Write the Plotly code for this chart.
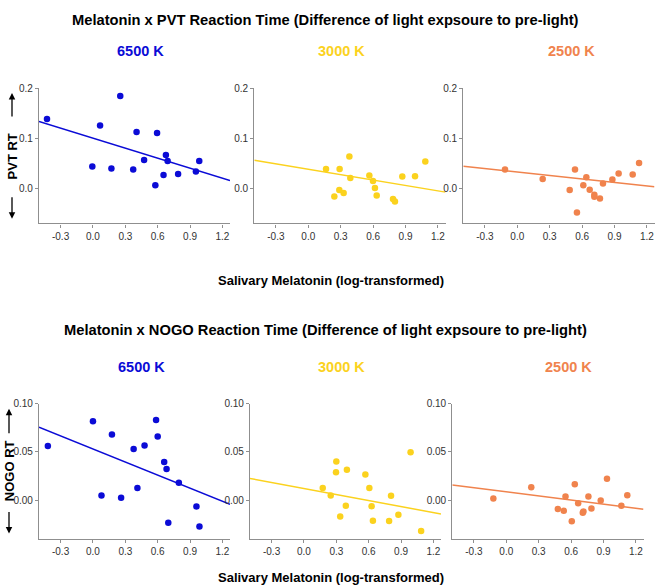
import plotly.graph_objects as go

W, H = 661, 588

# ---------------- data ----------------
conditions = ["6500 K", "3000 K", "2500 K"]
colors = ["#0b0bd6", "#fbd21e", "#f0834d"]

x_range = [-0.5, 1.27]
x_ticks = [-0.3, 0.0, 0.3, 0.6, 0.9, 1.2]
x_ticktext = ["-0.3", "0.0", "0.3", "0.6", "0.9", "1.2"]

pvt_y_range = [-0.07, 0.2]
pvt_y_ticks = [0.0, 0.1, 0.2]
pvt_y_ticktext = ["0.0", "0.1", "0.2"]

nogo_y_range = [-0.04, 0.10]
nogo_y_ticks = [0.0, 0.05, 0.10]
nogo_y_ticktext = ["0.00", "0.05", "0.10"]

# PVT reaction time
pvt_6500_x = [-0.426, 0.066, 0.253, -0.006, 0.171, 0.404, 0.594, 0.373, 0.474, 0.676, 0.692, 0.654, 0.578, 0.789, 0.954, 0.985]
pvt_6500_y = [0.139, 0.126, 0.185, 0.044, 0.040, 0.113, 0.111, 0.038, 0.057, 0.067, 0.055, 0.027, 0.0066, 0.029, 0.034, 0.055]
pvt_3000_x = [0.164, 0.290, 0.380, 0.389, 0.287, 0.327, 0.241, 0.565, 0.599, 0.617, 0.633, 0.784, 0.802, 0.870, 0.988, 1.083]
pvt_3000_y = [0.039, 0.039, 0.064, 0.021, -0.003, -0.009, -0.016, 0.026, 0.015, 0.0007, -0.014, -0.021, -0.026, 0.024, 0.0245, 0.054]
pvt_2500_x = [-0.114, 0.235, 0.485, 0.534, 0.552, 0.639, 0.611, 0.670, 0.713, 0.713, 0.765, 0.793, 0.880, 0.938, 1.068, 1.127]
pvt_2500_y = [0.038, 0.019, -0.003, 0.038, -0.048, 0.0225, 0.0066, -0.0026, -0.0126, -0.0166, -0.020, 0.010, 0.018, 0.030, 0.028, 0.051]
pvt_intercepts = [0.1005, 0.0384, 0.0328]
pvt_slopes = [-0.0666, -0.0360, -0.0232]

# NOGO reaction time
nogo_6500_x = [-0.418, 0.0, 0.079, 0.176, 0.261, 0.377, 0.412, 0.478, 0.585, 0.600, 0.660, 0.682, 0.698, 0.796, 0.959, 0.987]
nogo_6500_y = [0.056, 0.0816, 0.0048, 0.068, 0.0024, 0.053, 0.0126, 0.0567, 0.083, 0.066, 0.0396, 0.0324, -0.0235, 0.018, -0.0065, -0.0273]
nogo_3000_x = [0.174, 0.248, 0.300, 0.297, 0.398, 0.388, 0.336, 0.569, 0.606, 0.627, 0.639, 0.789, 0.807, 0.875, 0.988, 1.086]
nogo_3000_y = [0.0127, 0.0048, 0.040, 0.0288, 0.0315, -0.0058, -0.0168, 0.0267, 0.0127, -0.0062, -0.0212, -0.0216, 0.0045, -0.0151, 0.0497, -0.0318]
nogo_2500_x = [-0.120, 0.231, 0.477, 0.532, 0.548, 0.606, 0.634, 0.665, 0.708, 0.714, 0.760, 0.788, 0.874, 0.932, 1.065, 1.120]
nogo_2500_y = [0.0017, 0.0134, -0.0092, -0.011, 0.0038, -0.0219, 0.0164, -0.0031, -0.013, -0.0116, 0.0038, -0.0086, -0.0003, 0.0223, -0.0058, 0.0051]
nogo_intercepts = [0.0530, 0.0121, 0.0087]
nogo_slopes = [-0.0451, -0.0208, -0.01425]

title_top = "Melatonin x PVT Reaction Time (Difference of light expsoure to pre-light)"
title_bottom = "Melatonin x NOGO Reaction Time (Difference of light expsoure to pre-light)"
x_label = "Salivary Melatonin (log-transformed)"
y_label_top = "PVT RT"
y_label_bottom = "NOGO RT"

# ---------------- layout helpers ----------------
def px(x):
    return x / W

def py(y):
    return 1 - y / H

FONT = "Liberation Sans, Arial, sans-serif"

# panel pixel boxes: (left, right), (top, bottom)
top_boxes = [(39, 230), (254.3, 445.5), (463.3, 654.5)]
bot_boxes = [(39, 230), (250, 441), (452.3, 643.5)]
top_y = (83.3, 219.7)
bot_y = (401.7, 538.3)

fig = go.Figure()

pvt_x = [pvt_6500_x, pvt_3000_x, pvt_2500_x]
pvt_y = [pvt_6500_y, pvt_3000_y, pvt_2500_y]
nogo_x = [nogo_6500_x, nogo_3000_x, nogo_2500_x]
nogo_y = [nogo_6500_y, nogo_3000_y, nogo_2500_y]

layout_axes = {}
idx = 0
for row, (xs_all, ys_all, icpts, slopes, boxes, ybox, yr, yt, ytt) in enumerate([
    (pvt_x, pvt_y, pvt_intercepts, pvt_slopes, top_boxes, top_y, pvt_y_range, pvt_y_ticks, pvt_y_ticktext),
    (nogo_x, nogo_y, nogo_intercepts, nogo_slopes, bot_boxes, bot_y, nogo_y_range, nogo_y_ticks, nogo_y_ticktext),
]):
    for c in range(3):
        idx += 1
        xa = "x" if idx == 1 else f"x{idx}"
        ya = "y" if idx == 1 else f"y{idx}"
        xname = "xaxis" if idx == 1 else f"xaxis{idx}"
        yname = "yaxis" if idx == 1 else f"yaxis{idx}"
        col = colors[c]
        lx = list(x_range)
        ly = [icpts[c] + slopes[c] * v for v in lx]
        fig.add_trace(go.Scatter(x=lx, y=ly, mode="lines", line=dict(color=col, width=1.5),
                                 xaxis=xa, yaxis=ya, showlegend=False, hoverinfo="skip"))
        fig.add_trace(go.Scatter(x=xs_all[c], y=ys_all[c], mode="markers",
                                 marker=dict(color=col, size=6.5, line=dict(width=0)),
                                 xaxis=xa, yaxis=ya, showlegend=False))
        l, r = boxes[c]
        common = dict(showgrid=False, zeroline=False, showline=True,
                      linecolor="#8f8f8f", linewidth=1.2,
                      ticks="outside", ticklen=3, tickcolor="#8f8f8f",
                      tickfont=dict(size=10, color="#333333", family=FONT))
        layout_axes[xname] = dict(domain=[px(l), px(r)], range=x_range, anchor=ya,
                                  tickvals=x_ticks, ticktext=x_ticktext, **common)
        layout_axes[yname] = dict(domain=[py(ybox[1]), py(ybox[0])], range=yr, anchor=xa,
                                  tickvals=yt, ticktext=ytt, **common)

annotations = []
def text(s, x, y, size, color="black", angle=0):
    annotations.append(dict(text=f"<b>{s}</b>", x=px(x), y=py(y), xref="paper", yref="paper",
                            showarrow=False, xanchor="center", yanchor="middle", textangle=angle,
                            font=dict(size=size, color=color, family=FONT)))

text(title_top, 325, 14, 14.7)
text(title_bottom, 325, 327, 14.7)
for c, (xc_t, xc_b) in enumerate(zip([140, 342, 571], [141, 341, 568])):
    text(conditions[c], xc_t, 45, 14.5, colors[c])
    text(conditions[c], xc_b, 365, 14.5, colors[c])
text(x_label, 331, 277, 13)
text(x_label, 331, 577, 13)
text(y_label_top, 12, 152, 13, angle=-90)
text(y_label_bottom, 9, 470, 13, angle=-90)

def arrow(x, y_head, y_tail):
    annotations.append(dict(text="", x=px(x), y=py(y_head), xref="paper", yref="paper",
                            ax=0, ay=y_tail - y_head, axref="pixel", ayref="pixel",
                            showarrow=True, arrowhead=2, arrowsize=1, arrowwidth=1.3,
                            arrowcolor="black"))

arrow(12, 88, 113)
arrow(12, 215, 192)
arrow(9, 407, 433)
arrow(9, 533, 510)

fig.update_layout(width=W, height=H, margin=dict(l=0, r=0, t=0, b=0),
                  paper_bgcolor="white", plot_bgcolor="white",
                  annotations=annotations, **layout_axes)

fig.write_html(
    "out.html",
    config={"displayModeBar": False},
    post_script=(
        "document.body.style.margin='0';document.body.style.overflow='hidden';"
        "var gd=document.getElementById('{plot_id}');"
        "gd.style.position='absolute';gd.style.top='0px';gd.style.left='0px';"
    ),
)
